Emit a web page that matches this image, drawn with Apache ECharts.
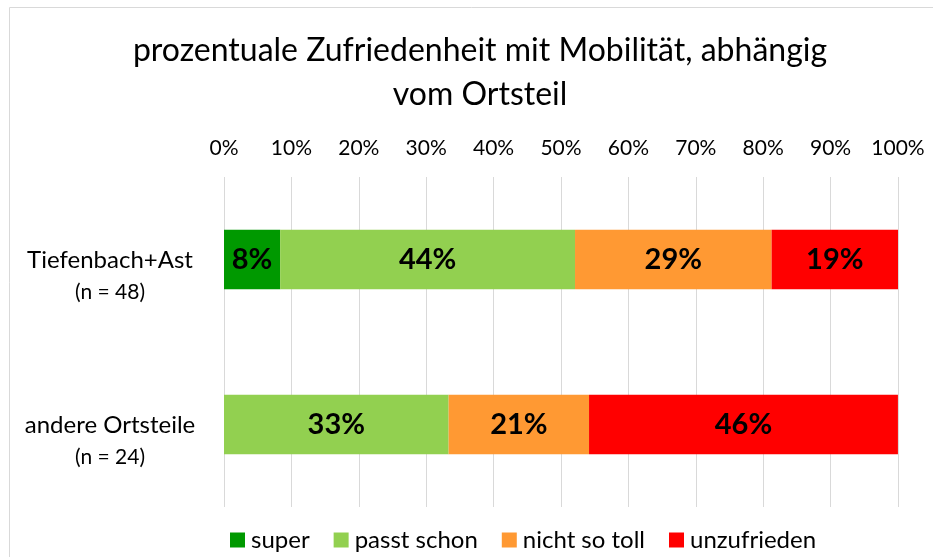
<!DOCTYPE html>
<html>
<head>
<meta charset="utf-8">
<script src="https://cdn.jsdelivr.net/npm/echarts@6/dist/echarts.min.js"></script>
<style>html,body{margin:0;padding:0;background:#fff}#c{width:933px;height:557px}</style>
</head>
<body>
<div id="c"></div>
<script>
const titleText = 'prozentuale Zufriedenheit mit Mobilität, abhängig\nvom Ortsteil';
const categories = ['Tiefenbach+Ast', 'andere Ortsteile'];
const sampleSizes = [48, 24];
const seriesNames = ['super', 'passt schon', 'nicht so toll', 'unzufrieden'];
const superValues = [8.33, 0];
const passtSchonValues = [43.75, 33.33];
const nichtSoTollValues = [29.17, 20.83];
const unzufriedenValues = [18.75, 45.83];
const colors = ['#009900', '#92D050', '#FF9933', '#FF0000'];
const xTicks = [0, 10, 20, 30, 40, 50, 60, 70, 80, 90, 100];

const FONT = 'Lato, "Open Sans", sans-serif';
const allValues = [superValues, passtSchonValues, nichtSoTollValues, unzufriedenValues];

const chart = echarts.init(document.getElementById('c'));
chart.setOption({
  animation: false,
  textStyle: { fontFamily: FONT },
  graphic: [{
    type: 'rect', shape: { x: 9.5, y: 7.5, width: 940, height: 560 },
    style: { fill: 'none', stroke: '#d9d9d9', lineWidth: 1 }, silent: true, z: -1
  }],
  title: {
    text: titleText,
    left: 475, top: 24, textAlign: 'center',
    textStyle: { fontFamily: FONT, fontSize: 32, fontWeight: 'normal', color: '#000', lineHeight: 44 }
  },
  legend: {
    top: 523, left: 225,
    itemWidth: 15, itemHeight: 15, itemGap: 24,
    icon: 'rect',
    textStyle: { fontFamily: FONT, fontSize: 24, color: '#000', padding: [0, 0, 0, 1] },
    data: seriesNames
  },
  grid: { left: 224, right: 35, top: 177, bottom: 50, containLabel: false },
  xAxis: {
    type: 'value', position: 'top', min: 0, max: 100, interval: 10,
    axisLine: { show: false }, axisTick: { show: false },
    splitLine: { lineStyle: { color: '#d9d9d9', width: 1 } },
    axisLabel: { formatter: v => xTicks.includes(v) ? v + '%' : '', fontSize: 21, color: '#000', margin: 18, fontFamily: FONT }
  },
  yAxis: {
    type: 'category', inverse: true, data: categories,
    axisLine: { show: false }, axisTick: { show: false },
    axisLabel: {
      margin: 114, align: 'center', fontFamily: FONT,
      padding: [34, 0, 0, 0],
      formatter: (v, i) => '{a|' + v + '}\n{b|(n = ' + sampleSizes[i] + ')}',
      rich: {
        a: { fontSize: 24, color: '#000', lineHeight: 32, fontFamily: FONT },
        b: { fontSize: 21, color: '#000', lineHeight: 32, fontFamily: FONT }
      }
    }
  },
  series: seriesNames.map((name, k) => ({
    name, type: 'bar', stack: 'total', barWidth: '36%',
    itemStyle: { color: colors[k] },
    label: {
      show: true, position: 'inside', color: '#000', fontWeight: 'bold', fontSize: 29, fontFamily: FONT,
      formatter: p => p.value > 0 ? Math.round(p.value) + '%' : ''
    },
    data: allValues[k]
  }))
});
</script>
</body>
</html>
